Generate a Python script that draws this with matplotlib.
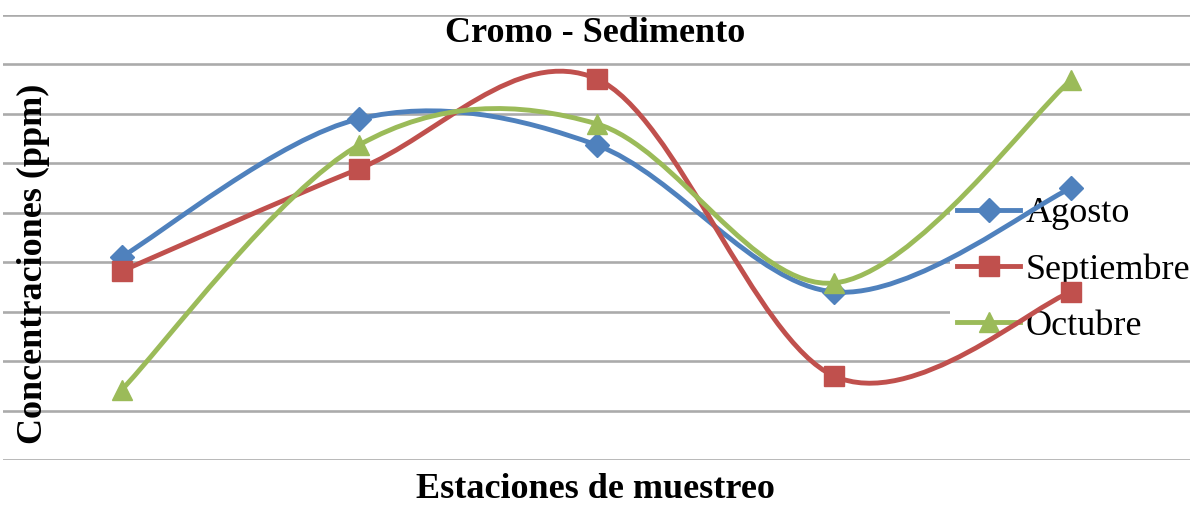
import numpy as np
import matplotlib
matplotlib.use("Agg")
import matplotlib.pyplot as plt
from matplotlib.path import Path
from matplotlib.patches import PathPatch
from matplotlib.lines import Line2D

# sampling stations (5 per campaign), concentrations in ppm
estaciones = [1, 2, 3, 4, 5]
agosto = [4.11, 6.90, 6.37, 3.40, 5.50]
septiembre = [3.82, 5.89, 7.71, 1.70, 3.40]
octubre = [1.42, 6.37, 6.80, 3.58, 7.69]

series = [
    ("Agosto", agosto, "#4F81BD", "D", 12),
    ("Septiembre", septiembre, "#C0504D", "s", 15),
    ("Octubre", octubre, "#9BBB59", "^", 15),
]


def smooth_path(x, y):
    """Excel-style smoothed line: cubic Bezier through every point."""
    pts = np.column_stack([x, y]).astype(float)
    n = len(pts)
    verts = [pts[0]]
    codes = [Path.MOVETO]
    for i in range(n - 1):
        p_prev = pts[i - 1] if i > 0 else pts[i]
        p0, p1 = pts[i], pts[i + 1]
        p_next = pts[i + 2] if i + 2 < n else pts[i + 1]
        c1 = p0 + (p1 - p_prev) / 6.0
        c2 = p1 - (p_next - p0) / 6.0
        verts += [c1, c2, p1]
        codes += [Path.CURVE4] * 3
    return Path(verts, codes)


plt.rcParams["font.family"] = ["Liberation Serif", "DejaVu Serif"]

fig = plt.figure(figsize=(11.90, 5.05), dpi=100)
ax = fig.add_axes([3 / 1190, 1 - 460 / 505, 1 - 3 / 1190, 445 / 505])

xpos = np.arange(len(estaciones))
handles = []
for name, vals, color, marker, ms in series:
    patch = PathPatch(smooth_path(xpos, vals), facecolor="none", edgecolor=color,
                      lw=3.5, zorder=3, capstyle="round", joinstyle="round")
    ax.add_patch(patch)
    ax.plot(xpos, vals, ls="none", marker=marker, ms=ms, color=color,
            markeredgecolor=color, zorder=4)
    handles.append(Line2D([], [], color=color, lw=3.5, marker=marker, ms=ms,
                          markeredgecolor=color, label=name))

ax.set_xlim(-0.5, len(estaciones) - 0.5)
ax.set_ylim(0, 9)
ax.set_yticks(np.arange(0, 10))
ax.set_xticks([])
ax.tick_params(left=False, labelleft=False)
ax.grid(axis="y", color="#ABABAB", lw=1.9)
ax.set_axisbelow(True)
for s in ax.spines.values():
    s.set_visible(False)

leg = ax.legend(handles=handles, loc="upper left", bbox_to_anchor=(950 / 1190, 1 - 190 / 505),
                bbox_transform=fig.transFigure, frameon=True, fontsize=26,
                handlelength=1.75, handletextpad=0.15, labelspacing=0.63,
                borderpad=0.2, borderaxespad=0)
leg.get_frame().set_facecolor("white")
leg.get_frame().set_edgecolor("none")
leg.get_frame().set_alpha(1)
leg.set_zorder(2)

fig.text(0.5, 1 - 42 / 505, "Cromo - Sedimento", ha="center", va="baseline",
         fontsize=26, fontweight="bold")
fig.text(0.5, 1 - 498 / 505, "Estaciones de muestreo", ha="center", va="baseline",
         fontsize=26, fontweight="bold")
fig.text(33 / 1190, 1 - 264 / 505, "Concentraciones (ppm)", ha="center", va="center",
         rotation=90, fontsize=26, fontweight="bold")

fig.savefig("out.png", dpi=100)
